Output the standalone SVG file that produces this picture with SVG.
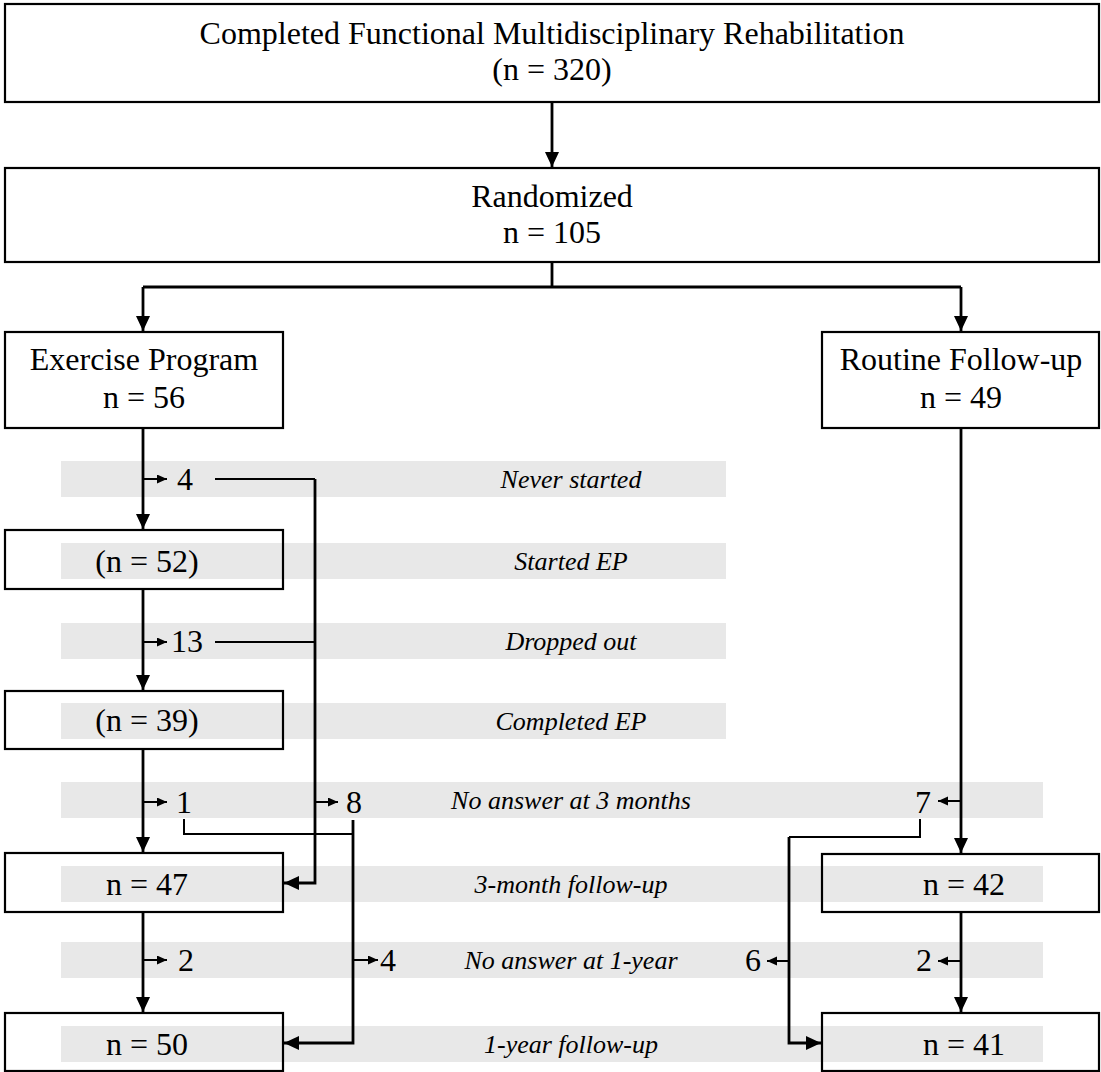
<svg xmlns="http://www.w3.org/2000/svg" width="1101" height="1072" viewBox="0 0 1101 1072">
<style>
.box{fill:none;stroke:#000;stroke-width:2.2}
.t{font-family:"Liberation Serif","Times New Roman",serif;font-size:32px;fill:#000;text-anchor:middle}
.it{font-family:"Liberation Serif","Times New Roman",serif;font-size:26px;font-style:italic;fill:#000;text-anchor:middle}
.band{fill:#e8e8e8}
.main{fill:none;stroke:#000;stroke-width:2.8}
.thin{fill:none;stroke:#000;stroke-width:2}
</style>
<defs>
<marker id="big" markerUnits="userSpaceOnUse" markerWidth="16" markerHeight="16" refX="15" refY="7" orient="auto">
<path d="M0,0 L15,7 L0,14 Z" fill="#000"/>
</marker>
<marker id="small" markerUnits="userSpaceOnUse" markerWidth="12" markerHeight="12" refX="10" refY="4.5" orient="auto">
<path d="M0,0 L10,4.5 L0,9 Z" fill="#000"/>
</marker>
</defs>
<rect width="1101" height="1072" fill="#fff"/>
<g id="bands">
<rect class="band" x="61" y="461" width="665" height="36"/>
<rect class="band" x="61" y="543" width="665" height="36"/>
<rect class="band" x="61" y="623" width="665" height="36"/>
<rect class="band" x="61" y="703" width="665" height="36"/>
<rect class="band" x="61" y="782" width="982" height="36"/>
<rect class="band" x="61" y="866" width="982" height="36"/>
<rect class="band" x="61" y="942" width="982" height="36"/>
<rect class="band" x="61" y="1026" width="982" height="36"/>
<text class="it" x="571" y="488">Never started</text>
<text class="it" x="571" y="570">Started EP</text>
<text class="it" x="571" y="650">Dropped out</text>
<text class="it" x="571" y="730">Completed EP</text>
<text class="it" x="571" y="809">No answer at 3 months</text>
<text class="it" x="571" y="893">3-month follow-up</text>
<text class="it" x="571" y="969">No answer at 1-year</text>
<text class="it" x="571" y="1053">1-year follow-up</text>
</g>
<g id="connectors">
<path class="main" d="M552,102 V167" marker-end="url(#big)"/>
<path class="main" d="M552,262 V287 M143,287 H961"/>
<path class="main" d="M143,287 V331" marker-end="url(#big)"/>
<path class="main" d="M961,287 V331" marker-end="url(#big)"/>
<path class="main" d="M143,428 V529" marker-end="url(#big)"/>
<path class="main" d="M143,589 V690" marker-end="url(#big)"/>
<path class="main" d="M143,749 V852" marker-end="url(#big)"/>
<path class="main" d="M143,912 V1012" marker-end="url(#big)"/>
<path class="main" d="M961,428 V853" marker-end="url(#big)"/>
<path class="main" d="M961,912 V1012" marker-end="url(#big)"/>
<path class="thin" d="M143,479 H167" marker-end="url(#small)"/>
<path class="thin" d="M143,642 H167" marker-end="url(#small)"/>
<path class="thin" d="M143,802 H167" marker-end="url(#small)"/>
<path class="thin" d="M143,960 H167" marker-end="url(#small)"/>
<path class="thin" d="M215,479 H315 M215,642 H315"/>
<path class="main" d="M315,479 V883 H284" marker-end="url(#big)"/>
<path class="thin" d="M315,802 H338" marker-end="url(#small)"/>
<path class="thin" d="M184,819 V834 H353"/>
<path class="main" d="M353,820 V1043 H284" marker-end="url(#big)"/>
<path class="thin" d="M353,960 H378" marker-end="url(#small)"/>
<path class="thin" d="M961,801 H938" marker-end="url(#small)"/>
<path class="thin" d="M961,961 H938" marker-end="url(#small)"/>
<path class="thin" d="M789,961 H767" marker-end="url(#small)"/>
<path class="thin" d="M920,819 V837 H789"/>
<path class="main" d="M789,837 V1043 H821" marker-end="url(#big)"/>
</g>
<g id="n-total">
<rect class="box" x="5" y="4" width="1094" height="98"/>
<text class="t" x="552" y="44">Completed Functional Multidisciplinary Rehabilitation</text>
<text class="t" x="552" y="80">(n = 320)</text>
</g>
<g id="n-random">
<rect class="box" x="5" y="168" width="1094" height="94"/>
<text class="t" x="552" y="207">Randomized</text>
<text class="t" x="552" y="243">n = 105</text>
</g>
<g id="n-exercise">
<rect class="box" x="5" y="332" width="278" height="96"/>
<text class="t" x="144" y="370">Exercise Program</text>
<text class="t" x="144" y="408">n = 56</text>
</g>
<g id="n-routine">
<rect class="box" x="822" y="332" width="277" height="96"/>
<text class="t" x="961" y="370">Routine Follow-up</text>
<text class="t" x="961" y="408">n = 49</text>
</g>
<g id="n-never"><text class="t" x="185" y="490">4</text></g>
<g id="n-started">
<rect class="box" x="5" y="530" width="278" height="59"/>
<text class="t" x="147" y="572">(n = 52)</text>
</g>
<g id="n-dropped"><text class="t" x="187" y="652">13</text></g>
<g id="n-completed">
<rect class="box" x="5" y="691" width="278" height="58"/>
<text class="t" x="147" y="731">(n = 39)</text>
</g>
<g id="n-noans3-ep1"><text class="t" x="184" y="813">1</text></g>
<g id="n-noans3-ep8"><text class="t" x="354" y="813">8</text></g>
<g id="n-noans3-r"><text class="t" x="923" y="813">7</text></g>
<g id="n-3m-ep">
<rect class="box" x="5" y="853" width="278" height="59"/>
<text class="t" x="147" y="895">n = 47</text>
</g>
<g id="n-3m-r">
<rect class="box" x="822" y="854" width="277" height="58"/>
<text class="t" x="964" y="895">n = 42</text>
</g>
<g id="n-noans1-ep2"><text class="t" x="186" y="971">2</text></g>
<g id="n-noans1-ep4"><text class="t" x="388" y="971">4</text></g>
<g id="n-noans1-r6"><text class="t" x="753" y="971">6</text></g>
<g id="n-noans1-r2"><text class="t" x="924" y="971">2</text></g>
<g id="n-1y-ep">
<rect class="box" x="5" y="1013" width="278" height="58"/>
<text class="t" x="147" y="1055">n = 50</text>
</g>
<g id="n-1y-r">
<rect class="box" x="822" y="1013" width="277" height="58"/>
<text class="t" x="964" y="1055">n = 41</text>
</g>
</svg>
